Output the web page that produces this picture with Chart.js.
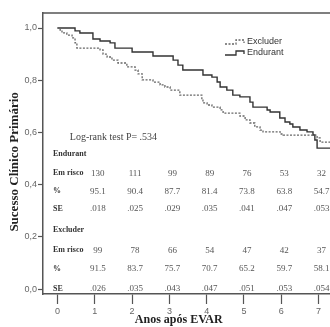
<!DOCTYPE html>
<html lang="pt">
<head>
<meta charset="UTF-8">
<title>Sucesso Clínico Primário - Endurant vs Excluder</title>
<script src="https://cdn.jsdelivr.net/npm/chart.js@4"></script>
<style>
    body { margin: 0; background: #fff; }
    canvas { display: block; }
</style>
</head>
<body>
<canvas id="km" width="330" height="327"></canvas>
<script>
// curvas de Kaplan-Meier (anos, sobrevida)
var endurantT = [0, 0.47, 0.60, 0.95, 1.14, 1.41, 1.54, 2.00, 2.56, 3.10, 3.23, 3.36, 3.90, 4.14, 4.28, 4.36, 4.54, 4.70, 4.89, 5.16, 5.24, 5.62, 5.70, 5.96, 6.10, 6.23, 6.31, 6.50, 6.69, 6.85, 6.90, 6.96, 7.4];
var endurantS = [1.0, 0.989, 0.981, 0.958, 0.950, 0.943, 0.923, 0.908, 0.893, 0.877, 0.858, 0.839, 0.820, 0.812, 0.793, 0.774, 0.762, 0.743, 0.736, 0.716, 0.697, 0.686, 0.678, 0.655, 0.640, 0.632, 0.621, 0.609, 0.602, 0.590, 0.571, 0.540, 0.540];
var excluderT = [0, 0.07, 0.12, 0.25, 0.39, 0.47, 0.52, 1.14, 1.22, 1.33, 1.46, 1.62, 1.86, 2.08, 2.16, 2.27, 2.56, 2.75, 2.88, 3.02, 3.28, 3.87, 3.90, 4.01, 4.14, 4.36, 4.44, 4.89, 5.03, 5.16, 5.29, 5.43, 5.51, 5.97, 6.05, 6.96, 7.04, 7.4];
var excluderS = [1.0, 0.992, 0.981, 0.973, 0.962, 0.943, 0.923, 0.916, 0.900, 0.889, 0.877, 0.866, 0.851, 0.839, 0.824, 0.801, 0.793, 0.782, 0.774, 0.762, 0.743, 0.724, 0.713, 0.705, 0.697, 0.686, 0.674, 0.663, 0.648, 0.636, 0.621, 0.609, 0.602, 0.594, 0.590, 0.579, 0.563, 0.563];

// tabela de risco
var yearCols = [1, 2, 3, 4, 5, 6, 7];
var endurantRisk = ['130', '111', '99', '89', '76', '53', '32'];
var endurantPct = ['95.1', '90.4', '87.7', '81.4', '73.8', '63.8', '54.7'];
var endurantSE = ['.018', '.025', '.029', '.035', '.041', '.047', '.053'];
var excluderRisk = ['99', '78', '66', '54', '47', '42', '37'];
var excluderPct = ['91.5', '83.7', '75.7', '70.7', '65.2', '59.7', '58.1'];
var excluderSE = ['.026', '.035', '.043', '.047', '.051', '.053', '.054'];

var xTicks = [0, 1, 2, 3, 4, 5, 6, 7];
var yTicks = [0, 0.2, 0.4, 0.6, 0.8, 1.0];

function toPoints(t, s) {
    return t.map(function (v, i) { return { x: v, y: s[i] }; });
}

var serif = '"Liberation Serif", "DejaVu Serif", serif';
var sans = '"Liberation Sans", Arial, sans-serif';

// moldura, legenda, tabela e titulos dos eixos
var extras = {
    id: 'extras',
    afterDraw: function (chart) {
        var ctx = chart.ctx;
        var area = chart.chartArea;
        var xs = chart.scales.x;
        var ys = chart.scales.y;
        ctx.save();

        // linha superior da moldura
        ctx.strokeStyle = '#555';
        ctx.lineWidth = 1.5;
        ctx.beginPath();
        ctx.moveTo(area.left, area.top);
        ctx.lineTo(area.right, area.top);
        ctx.stroke();

        // legenda
        function legendItem(y, dash, color, label) {
            ctx.strokeStyle = color;
            ctx.lineWidth = 1.3;
            ctx.setLineDash(dash);
            ctx.beginPath();
            ctx.moveTo(225, y + 2);
            ctx.lineTo(236, y + 2);
            ctx.lineTo(236, y - 2);
            ctx.lineTo(244, y - 2);
            ctx.lineTo(244, y + 1);
            ctx.stroke();
            ctx.setLineDash([]);
            ctx.fillStyle = '#333';
            ctx.font = '9px ' + sans;
            ctx.textAlign = 'left';
            ctx.textBaseline = 'middle';
            ctx.fillText(label, 247, y);
        }
        legendItem(42, [2, 1.5], '#666', 'Excluder');
        legendItem(53, [], '#333', 'Endurant');

        // teste log-rank
        ctx.fillStyle = '#444';
        ctx.font = '10px ' + serif;
        ctx.textAlign = 'left';
        ctx.textBaseline = 'middle';
        ctx.fillText('Log-rank test P= .534', xs.getPixelForValue(0.33), ys.getPixelForValue(0.582));

        // tabela
        var rows = [
            { label: 'Endurant', vals: null, y: 0.517 },
            { label: 'Em risco', vals: endurantRisk, y: 0.444 },
            { label: '%', vals: endurantPct, y: 0.375 },
            { label: 'SE', vals: endurantSE, y: 0.307 },
            { label: 'Excluder', vals: null, y: 0.226 },
            { label: 'Em risco', vals: excluderRisk, y: 0.149 },
            { label: '%', vals: excluderPct, y: 0.077 },
            { label: 'SE', vals: excluderSE, y: 0.0 }
        ];
        rows.forEach(function (r) {
            var py = ys.getPixelForValue(r.y);
            ctx.fillStyle = '#333';
            ctx.font = 'bold 8px ' + serif;
            ctx.textAlign = 'left';
            ctx.fillText(r.label, area.left + 10, py);
            if (!r.vals) return;
            ctx.fillStyle = '#555';
            ctx.font = '9px ' + serif;
            ctx.textAlign = 'center';
            r.vals.forEach(function (v, i) {
                ctx.fillText(v, xs.getPixelForValue(yearCols[i]) + 3, py);
            });
        });

        // titulos dos eixos
        ctx.fillStyle = '#222';
        ctx.font = 'bold 12px ' + serif;
        ctx.textAlign = 'center';
        ctx.fillText('Anos após EVAR', xs.getPixelForValue(3.25), area.bottom + 26);
        ctx.font = 'bold 13px ' + serif;
        ctx.translate(15, ys.getPixelForValue(0.487));
        ctx.rotate(-Math.PI / 2);
        ctx.fillText('Sucesso Clínico Primário', 0, 0);
        ctx.restore();
    }
};

new Chart(document.getElementById('km'), {
    type: 'line',
    data: {
        datasets: [{
            label: 'Excluder',
            data: toPoints(excluderT, excluderS),
            borderColor: '#666',
            borderWidth: 1.3,
            borderDash: [2, 1.5],
            stepped: true,
            pointRadius: 0,
            fill: false
        }, {
            label: 'Endurant',
            data: toPoints(endurantT, endurantS),
            borderColor: '#333',
            borderWidth: 1.4,
            stepped: true,
            pointRadius: 0,
            fill: false
        }]
    },
    options: {
        responsive: false,
        devicePixelRatio: 1,
        animation: false,
        layout: { padding: { top: 13, right: 0, left: 0, bottom: 0 } },
        plugins: {
            legend: { display: false },
            tooltip: { enabled: false }
        },
        scales: {
            x: {
                type: 'linear',
                min: -0.389,
                max: 7.306,
                afterBuildTicks: function (s) { s.ticks = xTicks.map(function (v) { return { value: v }; }); },
                afterFit: function (s) { s.height = 33; },
                ticks: { color: '#666', font: { family: sans, size: 9 }, padding: 2, maxRotation: 0 },
                grid: { drawOnChartArea: false, drawTicks: true, tickLength: 10, color: '#555', tickWidth: 1.2 },
                border: { display: true, color: '#555', width: 1.5 }
            },
            y: {
                min: -0.019,
                max: 1.0575,
                afterBuildTicks: function (s) { s.ticks = yTicks.map(function (v) { return { value: v }; }); },
                afterFit: function (s) { s.width = 43; },
                ticks: {
                    color: '#666',
                    font: { family: sans, size: 9 },
                    padding: 1,
                    callback: function (v) { return Number(v).toFixed(1).replace('.', ','); }
                },
                grid: { drawOnChartArea: false, drawTicks: true, tickLength: 5, color: '#555', tickWidth: 1.2 },
                border: { display: true, color: '#555', width: 1.5 }
            }
        }
    },
    plugins: [extras]
});
</script>
</body>
</html>
